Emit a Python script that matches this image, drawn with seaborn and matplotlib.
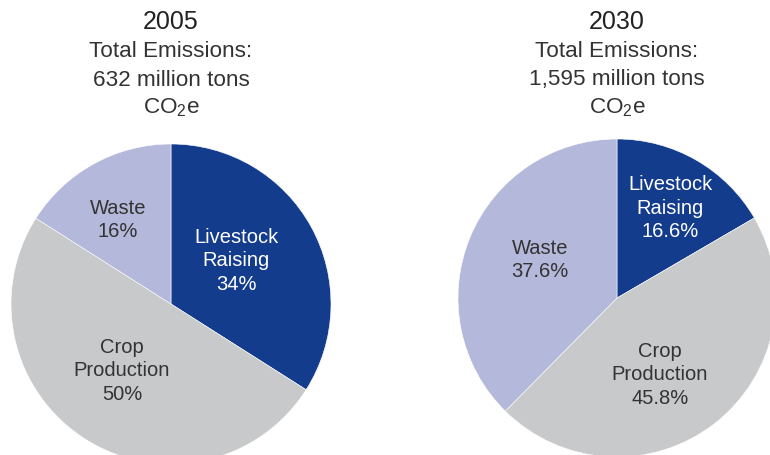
import numpy as np
import matplotlib
matplotlib.use("Agg")
import matplotlib.pyplot as plt
import seaborn as sns

# ---------------------------------------------------------------
# data
sectors = ["Livestock\nRaising", "Crop\nProduction", "Waste"]
share_2005 = [34, 50, 16]
share_2030 = [16.6, 45.8, 37.6]
pct_2005 = ["34%", "50%", "16%"]
pct_2030 = ["16.6%", "45.8%", "37.6%"]
years = ["2005", "2030"]
totals = ["632 million tons", "1,595 million tons"]

colors = ["#143c8c", "#c8c9cb", "#b4b8da"]
txt_col = ["white", "#333333", "#333333"]

sns.set_theme(style="white")
plt.rcParams["font.family"] = ["Liberation Sans", "DejaVu Sans"]
plt.rcParams["mathtext.fontset"] = "custom"
plt.rcParams["mathtext.rm"] = "Liberation Sans"
plt.rcParams["mathtext.it"] = "Liberation Sans"

W, H = 770, 456
fig = plt.figure(figsize=(W / 100, H / 100), dpi=100)
ax = fig.add_axes([0, 0, 1, 1])
ax.set_xlim(0, W)
ax.set_ylim(0, H)
ax.set_aspect("equal")
ax.axis("off")

# pie centres / radii in pixels (y measured from top)
pies = [
    dict(vals=share_2005, pcts=pct_2005, cx=171, cy=305, r=160,
         lab=[(236, 261), (122, 371), (118, 220)]),
    dict(vals=share_2030, pcts=pct_2030, cx=617, cy=299, r=159,
         lab=[(670, 208), (660, 375), (540, 260)]),
]

for i, p in enumerate(pies):
    ax.pie(p["vals"], colors=colors, startangle=90, counterclock=False,
           center=(p["cx"], H - p["cy"]), radius=p["r"],
           wedgeprops=dict(linewidth=0.4, edgecolor="white"))
    for j, (lx, ly) in enumerate(p["lab"]):
        ax.text(lx, H - ly, sectors[j] + "\n" + p["pcts"][j], ha="center",
                va="center", fontsize=14.5, color=txt_col[j], linespacing=1.33)

    # titles
    tx = p["cx"]
    ax.text(tx, H - 22, years[i], ha="center", va="center", fontsize=18,
            color="#222222")
    ax.text(tx, H - 51, "Total Emissions:", ha="center", va="center",
            fontsize=16.2, color="#333333")
    ax.text(tx, H - 80, totals[i], ha="center", va="center",
            fontsize=16.2, color="#333333")
    ax.text(tx, H - 108, "CO$_2$e", ha="center", va="center",
            fontsize=16.2, color="#333333")

ax.set_xlim(0, W)
ax.set_ylim(0, H)

fig.savefig("out.png", dpi=100, facecolor="white")
